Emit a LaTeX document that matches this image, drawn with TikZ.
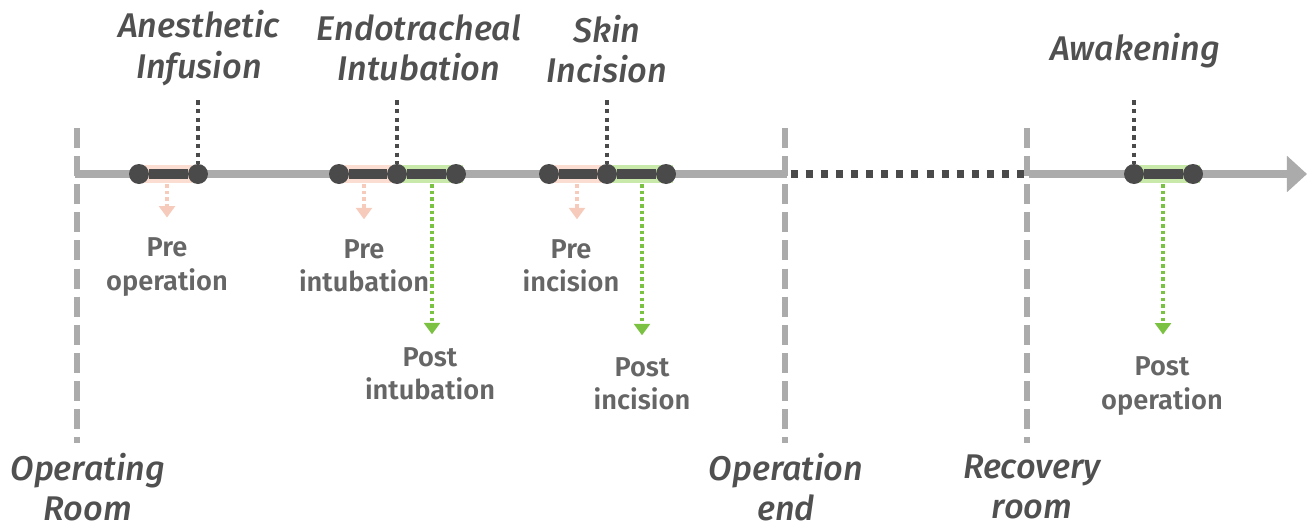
\documentclass[tikz,border=0pt]{standalone}
\usepackage{fontspec}
\setmainfont{Fira Sans}[BoldFont={Fira Sans SemiBold}, ItalicFont={Fira Sans Medium Italic}]
\usetikzlibrary{arrows.meta, positioning}

\definecolor{axisgray}{HTML}{ABABAB}
\definecolor{darkpt}{HTML}{4A4A4A}
\definecolor{prepink}{HTML}{FBDDD1}
\definecolor{prearrow}{HTML}{F6CBBB}
\definecolor{postgreen}{HTML}{C9E9AB}
\definecolor{postarrow}{HTML}{7CC242}
\definecolor{phasetxt}{HTML}{505050}
\definecolor{sampletxt}{HTML}{666666}

\tikzset{
    evt/.style={circle, fill=darkpt, inner sep=0pt, minimum size=0.4cm},
    bar/.style={darkpt, line width=6pt},
    axisline/.style={axisgray, line width=4pt},
    gapline/.style={darkpt, line width=4pt, dash pattern=on 4pt off 4.6pt},
    cutline/.style={axisgray, line width=3.4pt, dash pattern=on 11.4pt off 4.6pt},
    markline/.style={darkpt, line width=2.6pt, dash pattern=on 2.6pt off 2.4pt},
    prearr/.style={prearrow, line width=2pt, dash pattern=on 2pt off 1.8pt,
        -{Triangle[length=6.5pt,width=9pt]}},
    postarr/.style={postarrow, line width=2pt, dash pattern=on 2pt off 1.8pt,
        -{Triangle[length=6.5pt,width=9pt]}},
    phase/.style={font=\itshape\fontsize{19.5}{23}\selectfont, text=phasetxt, align=center, inner sep=0pt},
    sample/.style={font=\bfseries\fontsize{15.5}{19}\selectfont, text=sampletxt, align=center, inner sep=0pt}
}

\begin{document}
\begin{tikzpicture}[x=0.02cm, y=-0.02cm]
    \useasboundingbox (0,0) rectangle (1309,528);
    % ---- rooms ----
    \draw[cutline] (77,128) -- (77,443);
    \draw[cutline] (785,128) -- (785,443);
    \draw[cutline] (1027,128) -- (1027,443);
    \node[phase] (lOR) at (88,487) {Operating\\Room};
    \node[phase] (lOE) at (786,487) {Operation\\end};
    \node[phase] (lRR) at (1032,487) {Recovery\\room};
    % ---- time axis ----
    \coordinate (orStart) at (75,174);
    \coordinate (opEnd) at (787,174);
    \coordinate (gapEnd) at (1025,174);
    \coordinate (rrStart) at (1029,174);
    \coordinate (axEnd) at (1307,174);
    \draw[axisline] (orStart) -- (opEnd);
    \draw[gapline] ([xshift=2pt]opEnd) -- (gapEnd);
    \draw[axisline, -{Triangle[length=11.4pt,width=20pt]}] (rrStart) -- (axEnd);
    % ---- bands ----
    \fill[prepink] (133,165) rectangle (198,183);
    \fill[prepink] (333,165) rectangle (397,183);
    \fill[postgreen] (397,165) rectangle (463,183);
    \fill[prepink] (543,165) rectangle (607,183);
    \fill[postgreen] (607,165) rectangle (673,183);
    \fill[postgreen] (1134,165) rectangle (1200,183);
    % ---- events ----
    \node[evt] (a1) at (139,174) {};
    \node[evt] (a2) at (198,174) {};
    \node[evt] (e1) at (339,174) {};
    \node[evt] (e2) at (397,174) {};
    \node[evt] (e3) at (456,174) {};
    \node[evt] (s1) at (549,174) {};
    \node[evt] (s2) at (607,174) {};
    \node[evt] (s3) at (666,174) {};
    \node[evt] (w1) at (1134,174) {};
    \node[evt] (w2) at (1193,174) {};
    \draw[bar] (a1) -- (a2);
    \draw[bar] (e1) -- (e2);
    \draw[bar] (e2) -- (e3);
    \draw[bar] (s1) -- (s2);
    \draw[bar] (s2) -- (s3);
    \draw[bar] (w1) -- (w2);
    % ---- phase labels ----
    \node[phase] (lAI) at (199,48) {Anesthetic\\Infusion};
    \node[phase] (lEI) at (419,48) {Endotracheal\\Intubation};
    \node[phase] (lSI) at (607,49) {Skin\\Incision};
    \node[phase] (lAW) at (1135,51) {Awakening};
    \coordinate (mAI) at (198,100);
    \coordinate (mEI) at (397,100);
    \coordinate (mSI) at (607,100);
    \coordinate (mAW) at (1134,100);
    \draw[markline] (mAI) -- (a2);
    \draw[markline] (mEI) -- (e2);
    \draw[markline] (mSI) -- (s2);
    \draw[markline] (mAW) -- (w1);
    % ---- samples ----
    \node[sample] (pOp) at (167,267) {Pre\\operation};
    \node[sample] (pInt) at (364,266) {Pre\\intubation};
    \node[sample] (pInc) at (571,266) {Pre\\incision};
    \node[sample] (qInt) at (430,374) {Post\\intubation};
    \node[sample] (qInc) at (642,384) {Post\\incision};
    \node[sample] (qOp) at (1162,386) {Post\\operation};
    \coordinate (dOp) at (167,184);
    \coordinate (dInt) at (364,184);
    \coordinate (dInc) at (577,184);
    \coordinate (uInt) at (432,184);
    \coordinate (uInc) at (642,184);
    \coordinate (uOp) at (1163,184);
    \draw[prearr, shorten >=0.4cm] (dOp) -- (dOp |- pOp.north);
    \draw[prearr, shorten >=0.4cm] (dInt) -- (dInt |- pInt.north);
    \draw[prearr, shorten >=0.4cm] (dInc) -- (dInc |- pInc.north);
    \draw[postarr, shorten >=0.26cm] (uInt) -- (uInt |- qInt.north);
    \draw[postarr, shorten >=0.44cm] (uInc) -- (uInc |- qInc.north);
    \draw[postarr, shorten >=0.44cm] (uOp) -- (uOp |- qOp.north);
\end{tikzpicture}
\end{document}
